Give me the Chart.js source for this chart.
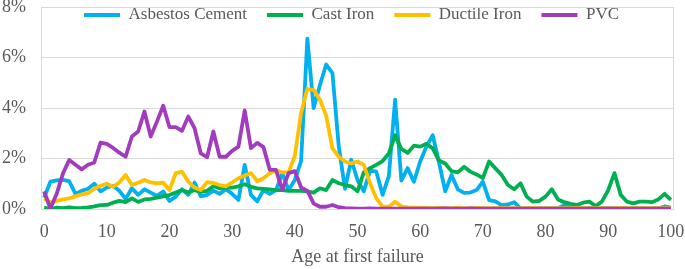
<!DOCTYPE html>
<html>
<head>
<meta charset="utf-8">
<title>Age at first failure</title>
<script src="https://cdn.jsdelivr.net/npm/chart.js@4.4.0/dist/chart.umd.min.js"></script>
<style>
  body { margin: 0; background: #fff; }
</style>
</head>
<body>
<canvas id="charts" width="685" height="269"></canvas>
<script>

// age at first failure (years), one category per year
const ages = Array.from({ length: 101 }, (_, i) => String(i));

// share of failures per age, in %
const asbestosCement = [
  0.45, 1.08, 1.13, 1.15, 1.10, 0.60, 0.72, 0.80, 1.00, 0.70,
  0.85, 0.92, 0.72, 0.40, 0.82, 0.56, 0.78, 0.65, 0.52, 0.69,
  0.32, 0.49, 0.78, 0.56, 1.05, 0.50, 0.56, 0.73, 0.60, 0.78,
  0.60, 0.36, 1.75, 0.56, 0.30, 0.75, 0.60, 0.75, 1.42, 0.75,
  1.15, 1.90, 6.75, 4.00, 4.90, 5.72, 5.38, 2.50, 0.80, 1.95,
  1.15, 0.70, 1.52, 1.48, 0.56, 1.30, 4.33, 1.12, 1.62, 1.08,
  1.88, 2.47, 2.92, 1.85, 0.70, 1.35, 0.78, 0.64, 0.65, 0.75,
  1.08, 0.35, 0.30, 0.15, 0.18, 0.27, 0.03, 0.02, 0.02, 0.02,
  0.02, 0.02, 0.03, 0.15, 0.05, 0.02, 0.02, 0.03, 0.02, 0.02,
  0.02, 0.03, 0.02, 0.02, 0.02, 0.03, 0.02, 0.02, 0.03, 0.10,
  0.05
];

const castIron = [
  0.05, 0.00, 0.05, 0.03, 0.06, 0.03, 0.04, 0.06, 0.10, 0.15,
  0.16, 0.25, 0.32, 0.27, 0.42, 0.28, 0.38, 0.40, 0.45, 0.50,
  0.55, 0.65, 0.75, 0.65, 0.75, 0.68, 0.72, 0.90, 0.82, 0.86,
  0.85, 0.90, 0.98, 0.88, 0.82, 0.80, 0.78, 0.75, 0.75, 0.72,
  0.72, 0.72, 0.70, 0.65, 0.82, 0.75, 1.15, 1.02, 0.95, 0.90,
  0.70, 1.45, 1.62, 1.75, 1.90, 2.20, 2.92, 2.38, 2.22, 2.51,
  2.47, 2.58, 2.40, 1.92, 1.80, 1.50, 1.45, 1.67, 1.48, 1.37,
  1.22, 1.88, 1.61, 1.35, 0.95, 0.78, 1.02, 0.49, 0.29, 0.32,
  0.49, 0.78, 0.38, 0.27, 0.20, 0.16, 0.25, 0.29, 0.12, 0.29,
  0.75, 1.42, 0.56, 0.29, 0.22, 0.29, 0.29, 0.27, 0.38, 0.60,
  0.36
];

const ductileIron = [
  0.42, 0.25, 0.32, 0.38, 0.42, 0.50, 0.58, 0.63, 0.80, 0.92,
  1.00, 0.88, 1.05, 1.35, 0.95, 1.04, 1.15, 1.05, 1.02, 1.04,
  0.75, 1.42, 1.48, 1.08, 0.85, 0.75, 1.06, 1.03, 0.95, 0.90,
  1.05, 1.22, 1.33, 1.42, 1.10, 1.22, 1.42, 1.52, 1.45, 1.45,
  2.10, 3.80, 4.75, 4.72, 4.33, 3.70, 2.40, 2.07, 1.88, 1.80,
  1.88, 1.75, 1.02, 0.42, 0.09, 0.09, 0.29, 0.10, 0.06, 0.05,
  0.05, 0.04, 0.03, 0.04, 0.03, 0.03, 0.04, 0.03, 0.03, 0.04,
  0.03, 0.03, 0.03, 0.04, 0.03, 0.03, 0.03, 0.03, 0.04, 0.03,
  0.03, 0.03, 0.03, 0.03, 0.03, 0.04, 0.03, 0.03, 0.03, 0.03,
  0.03, 0.03, 0.04, 0.03, 0.03, 0.03, 0.03, 0.03, 0.03, 0.03,
  0.03
];

const pvc = [
  0.70, 0.02, 0.60, 1.40, 1.94, 1.75, 1.57, 1.75, 1.84, 2.63,
  2.58, 2.42, 2.23, 2.07, 2.87, 3.07, 3.86, 2.87, 3.46, 4.09,
  3.24, 3.24, 3.10, 3.66, 3.20, 2.20, 2.05, 3.07, 2.07, 2.07,
  2.30, 2.47, 3.90, 2.41, 2.62, 2.45, 1.55, 1.55, 0.75, 1.42,
  1.50, 0.85, 0.72, 0.22, 0.09, 0.09, 0.16, 0.07, 0.03, 0.02,
  0.01, 0.01, 0.02, 0.01, 0.01, 0.01, 0.01, 0.01, 0.01, 0.01,
  0.01, 0.01, 0.01, 0.01, 0.02, 0.01, 0.01, 0.01, 0.02, 0.01,
  0.01, 0.01, 0.01, 0.01, 0.01, 0.01, 0.01, 0.01, 0.01, 0.01,
  0.01, 0.01, 0.01, 0.01, 0.01, 0.01, 0.01, 0.01, 0.01, 0.01,
  0.01, 0.01, 0.01, 0.01, 0.01, 0.01, 0.01, 0.01, 0.01, 0.01,
  0.01
];

const seriesNames = ['Asbestos Cement', 'Cast Iron', 'Ductile Iron', 'PVC'];
const seriesColors = ['#00B0F0', '#00B050', '#FFC000', '#A23CBE'];
const yTicks = [0, 2, 4, 6, 8];

const serif = "'Times New Roman', 'Liberation Serif', serif";
const grey = '#595959';
const gridGrey = '#D9D9D9';

// thin frame round the plot area, like the excel original
const plotFrame = {
  id: 'plotFrame',
  beforeDatasetsDraw(chart) {
    const { ctx, chartArea: a } = chart;
    ctx.save();
    ctx.strokeStyle = gridGrey;
    ctx.lineWidth = 1;
    ctx.strokeRect(a.left + 0.5, a.top + 0.5, a.right - a.left - 1, a.bottom - a.top);
    ctx.restore();
  }
};

// legend sits inside the plot, so it must not eat any height
const legendInside = {
  id: 'legendInside',
  beforeLayout(chart) {
    const lg = chart.legend;
    if (lg && !lg._inside) {
      const fit = lg.fit.bind(lg);
      lg.fit = function () { fit(); this.height = 0; };
      lg._inside = true;
    }
  },
  afterLayout(chart) {
    const lg = chart.legend;
    lg.top = 17 - 22 - 8.5;
    lg.bottom = lg.top + 60;   // legend clips to its own box
    lg.left = 14;
    lg.right = 689;
  }
};

function charts() {
  const datasets = seriesNames.map((name, i) => ({
    label: name,
    data: [asbestosCement, castIron, ductileIron, pvc][i],
    borderColor: seriesColors[i],
    backgroundColor: seriesColors[i],
    borderWidth: 3.8,
    pointRadius: 0,
    tension: 0,
    borderJoinStyle: 'round',
    order: seriesNames.length - i   // last series drawn on top
  }));

  new Chart(document.getElementById('charts').getContext('2d'), {
    type: 'line',
    data: { labels: ages, datasets: datasets },
    plugins: [plotFrame, legendInside],
    options: {
      responsive: false,
      devicePixelRatio: 1,
      animation: false,
      layout: { padding: { top: 7, right: 11, left: 0, bottom: 0 } },
      plugins: {
        tooltip: { enabled: false },
        legend: {
          position: 'top',
          align: 'center',
          labels: {
            usePointStyle: true,
            pointStyle: 'line',
            pointStyleWidth: 36,
            padding: 20,
            color: grey,
            font: { family: serif, size: 17 },
            sort: (a, b) => a.datasetIndex - b.datasetIndex
          }
        }
      },
      scales: {
        x: {
          type: 'category',
          offset: true,
          grid: { display: false },
          border: { display: false },
          ticks: {
            autoSkip: false,
            maxRotation: 0,
            padding: 4,
            color: grey,
            font: { family: serif, size: 18 },
            callback: (v, i) => (i % 10 === 0 ? ages[i] : null)
          },
          title: {
            display: true,
            text: 'Age at first failure',
            color: grey,
            font: { family: serif, size: 18 },
            padding: { top: 0, bottom: 1 }
          },
          afterFit: s => { s.height = 60; s.paddingLeft = 0; s.paddingRight = 0; }
        },
        y: {
          min: yTicks[0],
          max: yTicks[yTicks.length - 1],
          grid: { color: gridGrey, drawTicks: false },
          border: { display: false },
          ticks: {
            stepSize: 2,
            padding: 15,
            color: grey,
            font: { family: serif, size: 18 },
            callback: v => v + '%'
          },
          afterFit: s => { s.width = 41; s.paddingTop = 0; s.paddingBottom = 0; }
        }
      }
    }
  });
}

charts();
</script>
</body>
</html>
